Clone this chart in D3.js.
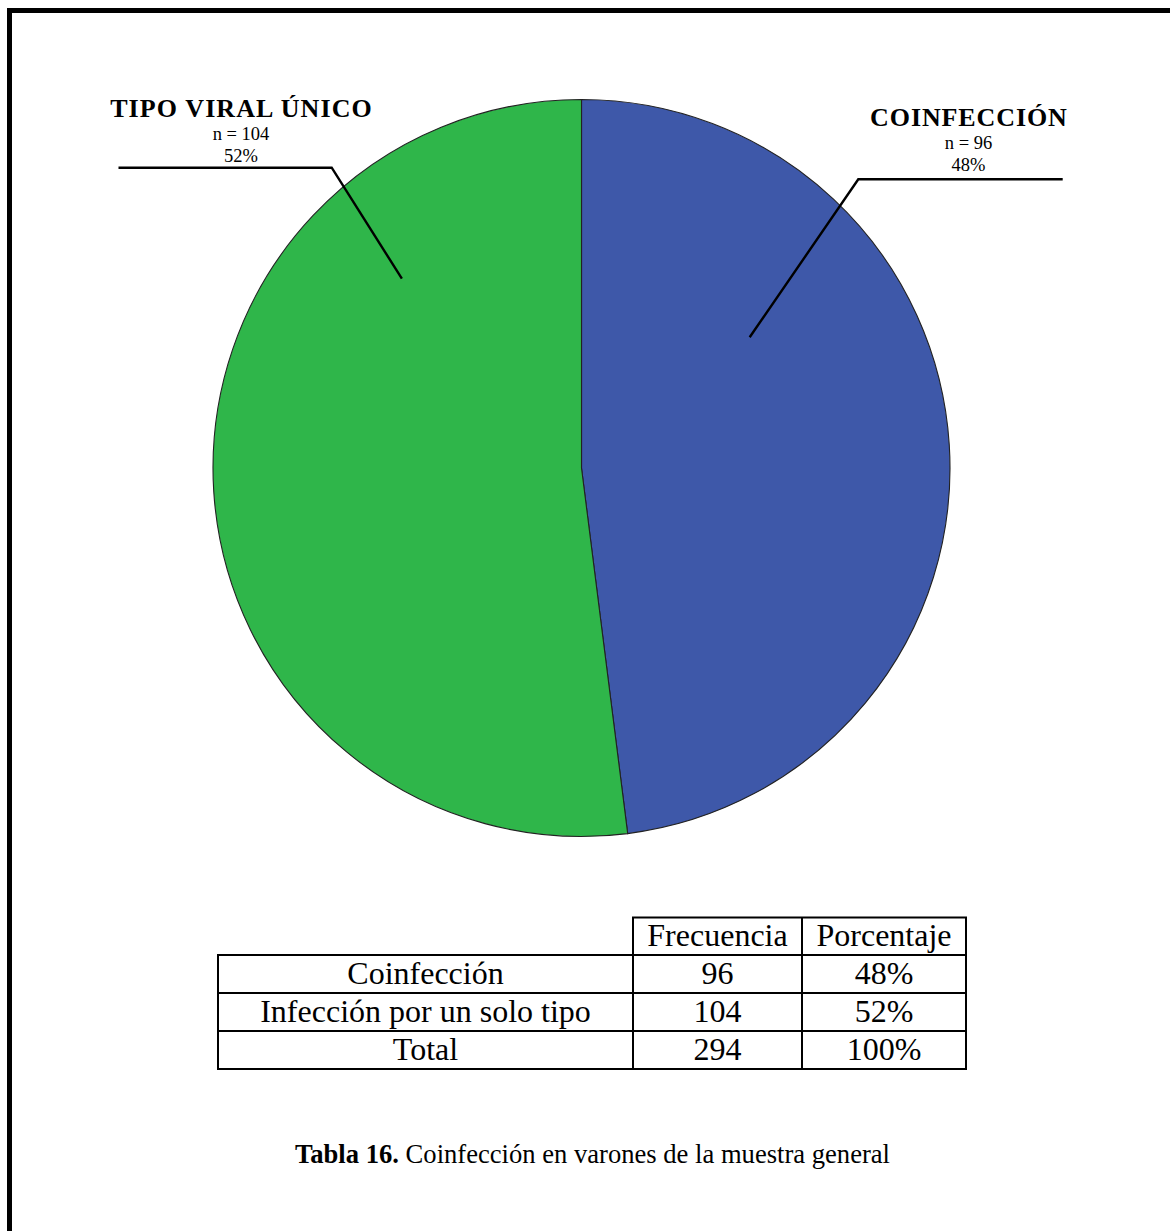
<!DOCTYPE html>
<html>
<head>
<meta charset="utf-8">
<script src="https://cdn.jsdelivr.net/npm/d3@7"></script>
<style>
  html, body { margin: 0; padding: 0; background: #fff; }
  svg { display: block; }
</style>
</head>
<body>
<svg id="chart" width="1170" height="1231"></svg>
<script>
// Pie data: infection type among men
const categories = ["COINFECCIÓN", "TIPO VIRAL ÚNICO"];
const counts = [96, 104];
const percents = [48, 52];
const colors = ["#3E58A9", "#2FB64A"];

// Summary table
const tableHeader = ["", "Frecuencia", "Porcentaje"];
const tableRows = ["Coinfección", "Infección por un solo tipo", "Total"];
const tableFreq = [96, 104, 294];
const tablePct = ["48%", "52%", "100%"];

const caption = { bold: "Tabla 16.", text: " Coinfección en varones de la muestra general" };

const svg = d3.select("#chart");
const W = 1170, H = 1231;
const SERIF = "'Liberation Serif', 'Times New Roman', Times, serif";

// page frame (top and left rules)
svg.append("rect").attr("x", 7).attr("y", 8).attr("width", W - 7).attr("height", 5).attr("fill", "#000");
svg.append("rect").attr("x", 7).attr("y", 8).attr("width", 5).attr("height", H - 8).attr("fill", "#000");

// ---- pie ----
const cx = 581.5, cy = 468, R = 368.5;
const pie = d3.pie().sort(null).startAngle(0).endAngle(2 * Math.PI);
const arcs = pie(counts);
const arc = d3.arc().innerRadius(0).outerRadius(R);

const g = svg.append("g").attr("transform", `translate(${cx},${cy})`);
g.selectAll("path.slice")
  .data(arcs)
  .join("path")
  .attr("class", "slice")
  .attr("d", arc)
  .attr("fill", (d, i) => colors[i])
  .attr("stroke", "#222")
  .attr("stroke-width", 1.1);

// leader lines: anchor inside slice (angle, radius), elbow, horizontal end
const leaders = [
  { anchor: [0.910, 213], elbow: [858.3, 179.3], end: 1062.7, label: [968.5, 125.5], spacing: 0.9 },
  { anchor: [-0.759, 261], elbow: [331.7, 167.7], end: 118.5, label: [241, 116.5], spacing: 1.1 }
];

leaders.forEach((L, i) => {
  const p = d3.pointRadial(L.anchor[0], L.anchor[1]);
  const pts = [[cx + p[0], cy + p[1]], L.elbow, [L.end, L.elbow[1]]];
  svg.append("path")
    .attr("d", d3.line()(pts))
    .attr("fill", "none")
    .attr("stroke", "#000")
    .attr("stroke-width", 2.4)
    .attr("stroke-linejoin", "miter");

  const t = svg.append("g").attr("font-family", SERIF)
    .attr("text-anchor", "middle").attr("fill", "#000");
  t.append("text").attr("x", L.label[0] + L.spacing / 2).attr("y", L.label[1])
    .attr("font-size", 26).attr("font-weight", "bold").attr("letter-spacing", L.spacing)
    .text(categories[i]);
  t.append("text").attr("x", L.label[0]).attr("y", L.label[1] + 23.5)
    .attr("font-size", 18.5).text(`n = ${counts[i]}`);
  t.append("text").attr("x", L.label[0]).attr("y", L.label[1] + 45)
    .attr("font-size", 18.5).text(`${percents[i]}%`);
});

// ---- table ----
const colX = [218, 633, 802, 966];
const rowY = [917.5, 955, 993, 1031, 1069];
const tg = svg.append("g");
const lineStyle = sel => sel.attr("stroke", "#000").attr("stroke-width", 2).attr("fill", "none");

// header box covers only the value columns
tg.append("rect").attr("x", colX[1]).attr("y", rowY[0]).attr("width", colX[3] - colX[1]).attr("height", rowY[1] - rowY[0]).call(lineStyle);
tg.append("line").attr("x1", colX[2]).attr("x2", colX[2]).attr("y1", rowY[0]).attr("y2", rowY[1]).call(lineStyle);
// body grid
tg.append("rect").attr("x", colX[0]).attr("y", rowY[1]).attr("width", colX[3] - colX[0]).attr("height", rowY[4] - rowY[1]).call(lineStyle);
[rowY[2], rowY[3]].forEach(y => tg.append("line").attr("x1", colX[0]).attr("x2", colX[3]).attr("y1", y).attr("y2", y).call(lineStyle));
[colX[1], colX[2]].forEach(x => tg.append("line").attr("x1", x).attr("x2", x).attr("y1", rowY[1]).attr("y2", rowY[4]).call(lineStyle));

const cellText = (col, row, txt) => tg.append("text")
  .attr("x", (colX[col] + colX[col + 1]) / 2)
  .attr("y", rowY[row + 1] - 9)
  .attr("text-anchor", "middle")
  .attr("font-family", SERIF)
  .attr("font-size", 32)
  .attr("fill", "#000")
  .text(txt);

cellText(1, 0, tableHeader[1]);
cellText(2, 0, tableHeader[2]);
tableRows.forEach((r, i) => {
  cellText(0, i + 1, r);
  cellText(1, i + 1, tableFreq[i]);
  cellText(2, i + 1, tablePct[i]);
});

// ---- caption ----
const cap = svg.append("text")
  .attr("x", 592.5).attr("y", 1163)
  .attr("text-anchor", "middle")
  .attr("font-family", SERIF)
  .attr("font-size", 26.6)
  .attr("fill", "#000");
cap.append("tspan").attr("font-weight", "bold").text(caption.bold);
cap.append("tspan").text(caption.text);
</script>
</body>
</html>
